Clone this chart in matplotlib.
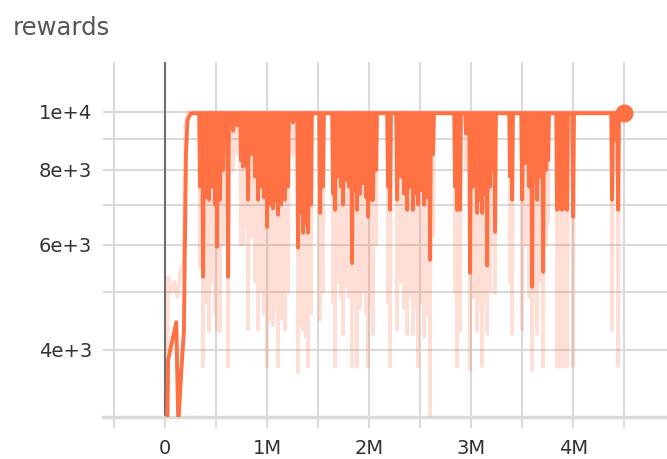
import numpy as np
import matplotlib.pyplot as plt
from matplotlib.ticker import NullFormatter

# training steps are in thousands
start_smooth_k = [20, 30, 110, 130, 160, 185, 195, 205, 220, 250, 280]
start_smooth_v = [2800, 3850, 4450, 3000, 3700, 4300, 6000, 8500, 9700, 9930, 9950]
start_raw_k = [20, 30, 60, 90, 120, 150, 180, 200, 230]
start_raw_v = [2500, 5300, 5000, 5200, 4900, 5400, 5600, 9500, 10000]

# episodes where the reward fell below the cap
dip_k = [343, 373, 402, 431, 461, 490, 510, 539, 569, 618, 667, 706, 745, 765,
         784, 814, 843, 882, 912, 941, 971, 1000, 1029, 1059, 1088, 1108, 1137,
         1176, 1206, 1255, 1304, 1333, 1353, 1382, 1402, 1431, 1520, 1549, 1647,
         1667, 1696, 1725, 1745, 1775, 1804, 1833, 1863, 1882, 1912, 1941, 1971,
         1990, 2020, 2039, 2069, 2186, 2206, 2275, 2314, 2343, 2373, 2402, 2431,
         2461, 2480, 2510, 2539, 2569, 2598, 2627, 2843, 2863, 2892, 2951, 2990,
         3020, 3059, 3078, 3108, 3127, 3157, 3186, 3216, 3235, 3382, 3402, 3500,
         3529, 3569, 3598, 3627, 3647, 3676, 3706, 3735, 3755, 3843, 3863, 3892,
         3922, 3941, 4000, 4382, 4412, 4441]
dip_smooth = [7500, 5300, 7200, 7130, 7500, 7000, 5950, 7130, 8000, 5300, 9300,
              9500, 8300, 8100, 8150, 7130, 8500, 7800, 7130, 7500, 7200, 6420,
              7000, 6900, 7100, 6730, 7000, 7130, 7500, 9600, 5930, 6800, 6280,
              6500, 6280, 7000, 6780, 7500, 7300, 6860, 7800, 7500, 7000, 7700,
              7500, 5590, 7400, 6860, 7300, 7600, 7200, 6680, 7130, 7130, 8000,
              7500, 6860, 7130, 7800, 7300, 6860, 7500, 6860, 7300, 7000, 7400,
              7000, 7200, 5660, 8500, 7500, 6860, 6860, 9200, 5380, 7500, 6780,
              7130, 6780, 7300, 5540, 7500, 8000, 6300, 7800, 7130, 7130, 8200,
              7500, 5100, 7600, 7130, 7800, 5400, 8000, 8300, 6860, 6900, 6860,
              6900, 6860, 6680, 7130, 9000, 6860]
dip_raw = [5500, 3750, 4800, 4300, 5200, 4600, 4320, 4300, 6000, 3750, 8000,
           8500, 6000, 6000, 6500, 4320, 6200, 5200, 4320, 5000, 4600, 3750,
           4500, 4400, 4700, 3750, 4500, 4320, 5000, 8500, 3670, 4400, 4320,
           4200, 3750, 4600, 4500, 5000, 4800, 3750, 5200, 4900, 4250, 5100,
           4900, 3750, 4800, 3750, 4700, 5000, 4600, 3750, 4700, 4250, 6000,
           4800, 3750, 4320, 5200, 4700, 4250, 4900, 4250, 4700, 3750, 4800,
           4200, 4600, 3100, 6200, 5000, 3750, 4300, 8000, 3700, 4900, 4300,
           4700, 3750, 4800, 4250, 5000, 6000, 4980, 5200, 4250, 4320, 6000,
           4900, 3700, 5000, 4250, 5200, 3750, 6000, 6500, 3750, 3750, 3750,
           3750, 3750, 3750, 4320, 8000, 3750]

smooth_top = 9950
raw_top = 10000
last_k = 4500

x_ticks = [-500, 0, 500, 1000, 1500, 2000, 2500, 3000, 3500, 4000, 4500]
x_labels = ['', '0', '', '1M', '', '2M', '', '3M', '', '4M', '']
y_ticks = [4000, 6000, 8000, 10000]
y_labels = ['4e+3', '6e+3', '8e+3', '1e+4']
y_minor = [5000, 7000, 9000]

color = '#ff7043'
grid_c = '#dadada'


def build(start_k, start_v, ks, vs, top, half=8):
    xs = list(start_k)
    ys = list(start_v)
    for k, v in zip(ks, vs):
        xs += [k - half, k, k + half]
        ys += [top, v, top]
    xs.append(last_k)
    ys.append(top)
    return np.array(xs) * 1e3, np.array(ys, dtype=float)


raw_x, raw_y = build(start_raw_k, start_raw_v, dip_k, dip_raw, raw_top)
sm_x, sm_y = build(start_smooth_k, start_smooth_v, dip_k, dip_smooth, smooth_top)

fig = plt.figure(figsize=(6.67, 4.59), dpi=100)
ax = fig.add_axes([103 / 667, 1 - 417 / 459, 1 - 103 / 667, (417 - 62) / 459])
ax.set_yscale('log')

ax.plot(raw_x, raw_y, color=color, alpha=0.22, lw=2.6, zorder=3)
ax.plot(sm_x, sm_y, color=color, lw=2.8, zorder=4, solid_joinstyle='round')
ax.plot(sm_x[-1], sm_y[-1], 'o', color=color, ms=12, zorder=5)

ax.set_xlim(-0.608e6, 4.92e6)
ax.set_ylim(3090, 12120)

ax.set_xticks([t * 1e3 for t in x_ticks])
ax.set_xticklabels(x_labels)
ax.set_yticks(y_ticks)
ax.set_yticklabels(y_labels)
ax.set_yticks(y_minor, minor=True)
ax.yaxis.set_minor_formatter(NullFormatter())

ax.grid(True, which='both', color=grid_c, lw=1.5, zorder=0)
ax.axvline(0, color='#6e6e6e', lw=1.5, zorder=1)
ax.set_axisbelow(True)

ax.tick_params(axis='x', length=8, width=1.5, color=grid_c, pad=8,
               labelsize=14, labelcolor='#333333')
ax.tick_params(axis='y', which='both', length=0, pad=8,
               labelsize=14, labelcolor='#333333')

for side in ['top', 'right', 'left']:
    ax.spines[side].set_visible(False)
ax.spines['bottom'].set_color(grid_c)
ax.spines['bottom'].set_linewidth(2.5)

fig.text(13 / 667, 1 - 28 / 459, 'rewards', fontsize=17.5, color='#555555',
         ha='left', va='center')

fig.savefig('out.png', dpi=100)
